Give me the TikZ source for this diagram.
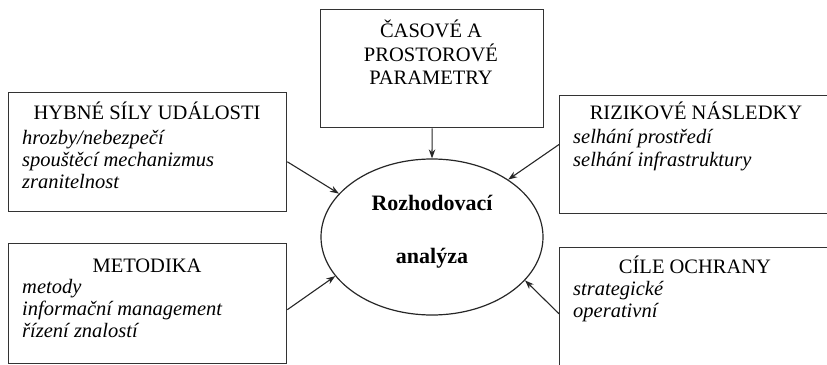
\documentclass[tikz,border=0pt]{standalone}
\usepackage{fontspec}
\setmainfont{Liberation Serif}
\usetikzlibrary{arrows.meta,calc,shapes.geometric}
\begin{document}
\begin{tikzpicture}[x=1pt,y=-1pt,
  box/.style={draw=black!80,line width=1.3pt,rectangle,anchor=north west,inner sep=0pt},
  head/.style={anchor=base,inner sep=0pt,font=\fontsize{20.5}{22.5}\selectfont},
  item/.style={anchor=base west,inner sep=0pt,font=\fontsize{20.5}{22.5}\selectfont\itshape},
  bold/.style={anchor=base,inner sep=0pt,font=\fontsize{22}{24}\selectfont\bfseries},
  arr/.style={draw=black!85,line width=1.1pt,-{Stealth[length=9pt,width=6.5pt]}}]
\useasboundingbox (0,0) rectangle (827,364);
\clip (0,0) rectangle (827,364);
% boxes
\node[box,minimum width=278pt,minimum height=119pt] (hyb) at (8,92) {};
\node[box,minimum width=278pt,minimum height=120pt] (met) at (8,243) {};
\node[box,minimum width=223pt,minimum height=118pt] (cas) at (320,9) {};
\node[box,minimum width=274pt,minimum height=118pt] (riz) at (559,95) {};
\node[box,minimum width=274pt,minimum height=123pt] (cil) at (559,247) {};
% ellipse
\node[draw=black!85,line width=1.2pt,ellipse,minimum width=222pt,minimum height=156pt,inner sep=0pt] (ell) at (432,237) {};
\node[bold] (e1) at (432,210) {Rozhodovací};
\node[bold] (e2) at (432,263) {analýza};
% top box text
\node[head] (c1) at (431,37) {ČASOVÉ A};
\node[head] (c2) at (431,61) {PROSTOROVÉ};
\node[head] (c3) at (431,84) {PARAMETRY};
% left top
\node[head] (h0) at (147,119) {HYBNÉ SÍLY UDÁLOSTI};
\node[item] (h1) at (22,144) {hrozby/nebezpečí};
\node[item] (h2) at (22,166) {spouštěcí mechanizmus};
\node[item] (h3) at (22,188) {zranitelnost};
% left bottom
\node[head] (m0) at (147,272) {METODIKA};
\node[item] (m1) at (22,293) {metody};
\node[item] (m2) at (22,315) {informační management};
\node[item] (m3) at (22,337) {řízení znalostí};
% right top
\node[head] (r0) at (696,119) {RIZIKOVÉ NÁSLEDKY};
\node[item] (r1) at (573,143) {selhání prostředí};
\node[item] (r2) at (573,166) {selhání infrastruktury};
% right bottom
\node[head] (o0) at (695,273) {CÍLE OCHRANY};
\node[item] (o1) at (573,295) {strategické};
\node[item] (o2) at (573,317) {operativní};
% connectors
\coordinate (hybout) at ($(hyb.north east)!0.58!(hyb.south east)$);
\coordinate (metout) at ($(met.north east)!0.55!(met.south east)$);
\coordinate (rizout) at ($(riz.north west)!0.415!(riz.south west)$);
\coordinate (cilout) at ($(cil.north west)!0.537!(cil.south west)$);
\draw[arr] (cas.south) -- (ell.north);
\draw[arr] (hybout) -- (ell.155.6);
\draw[arr] (metout) -- (ell.202.8);
\draw[arr] (rizout) -- (ell.37.6);
\draw[arr] (cilout) -- (ell.-25);
\end{tikzpicture}
\end{document}
